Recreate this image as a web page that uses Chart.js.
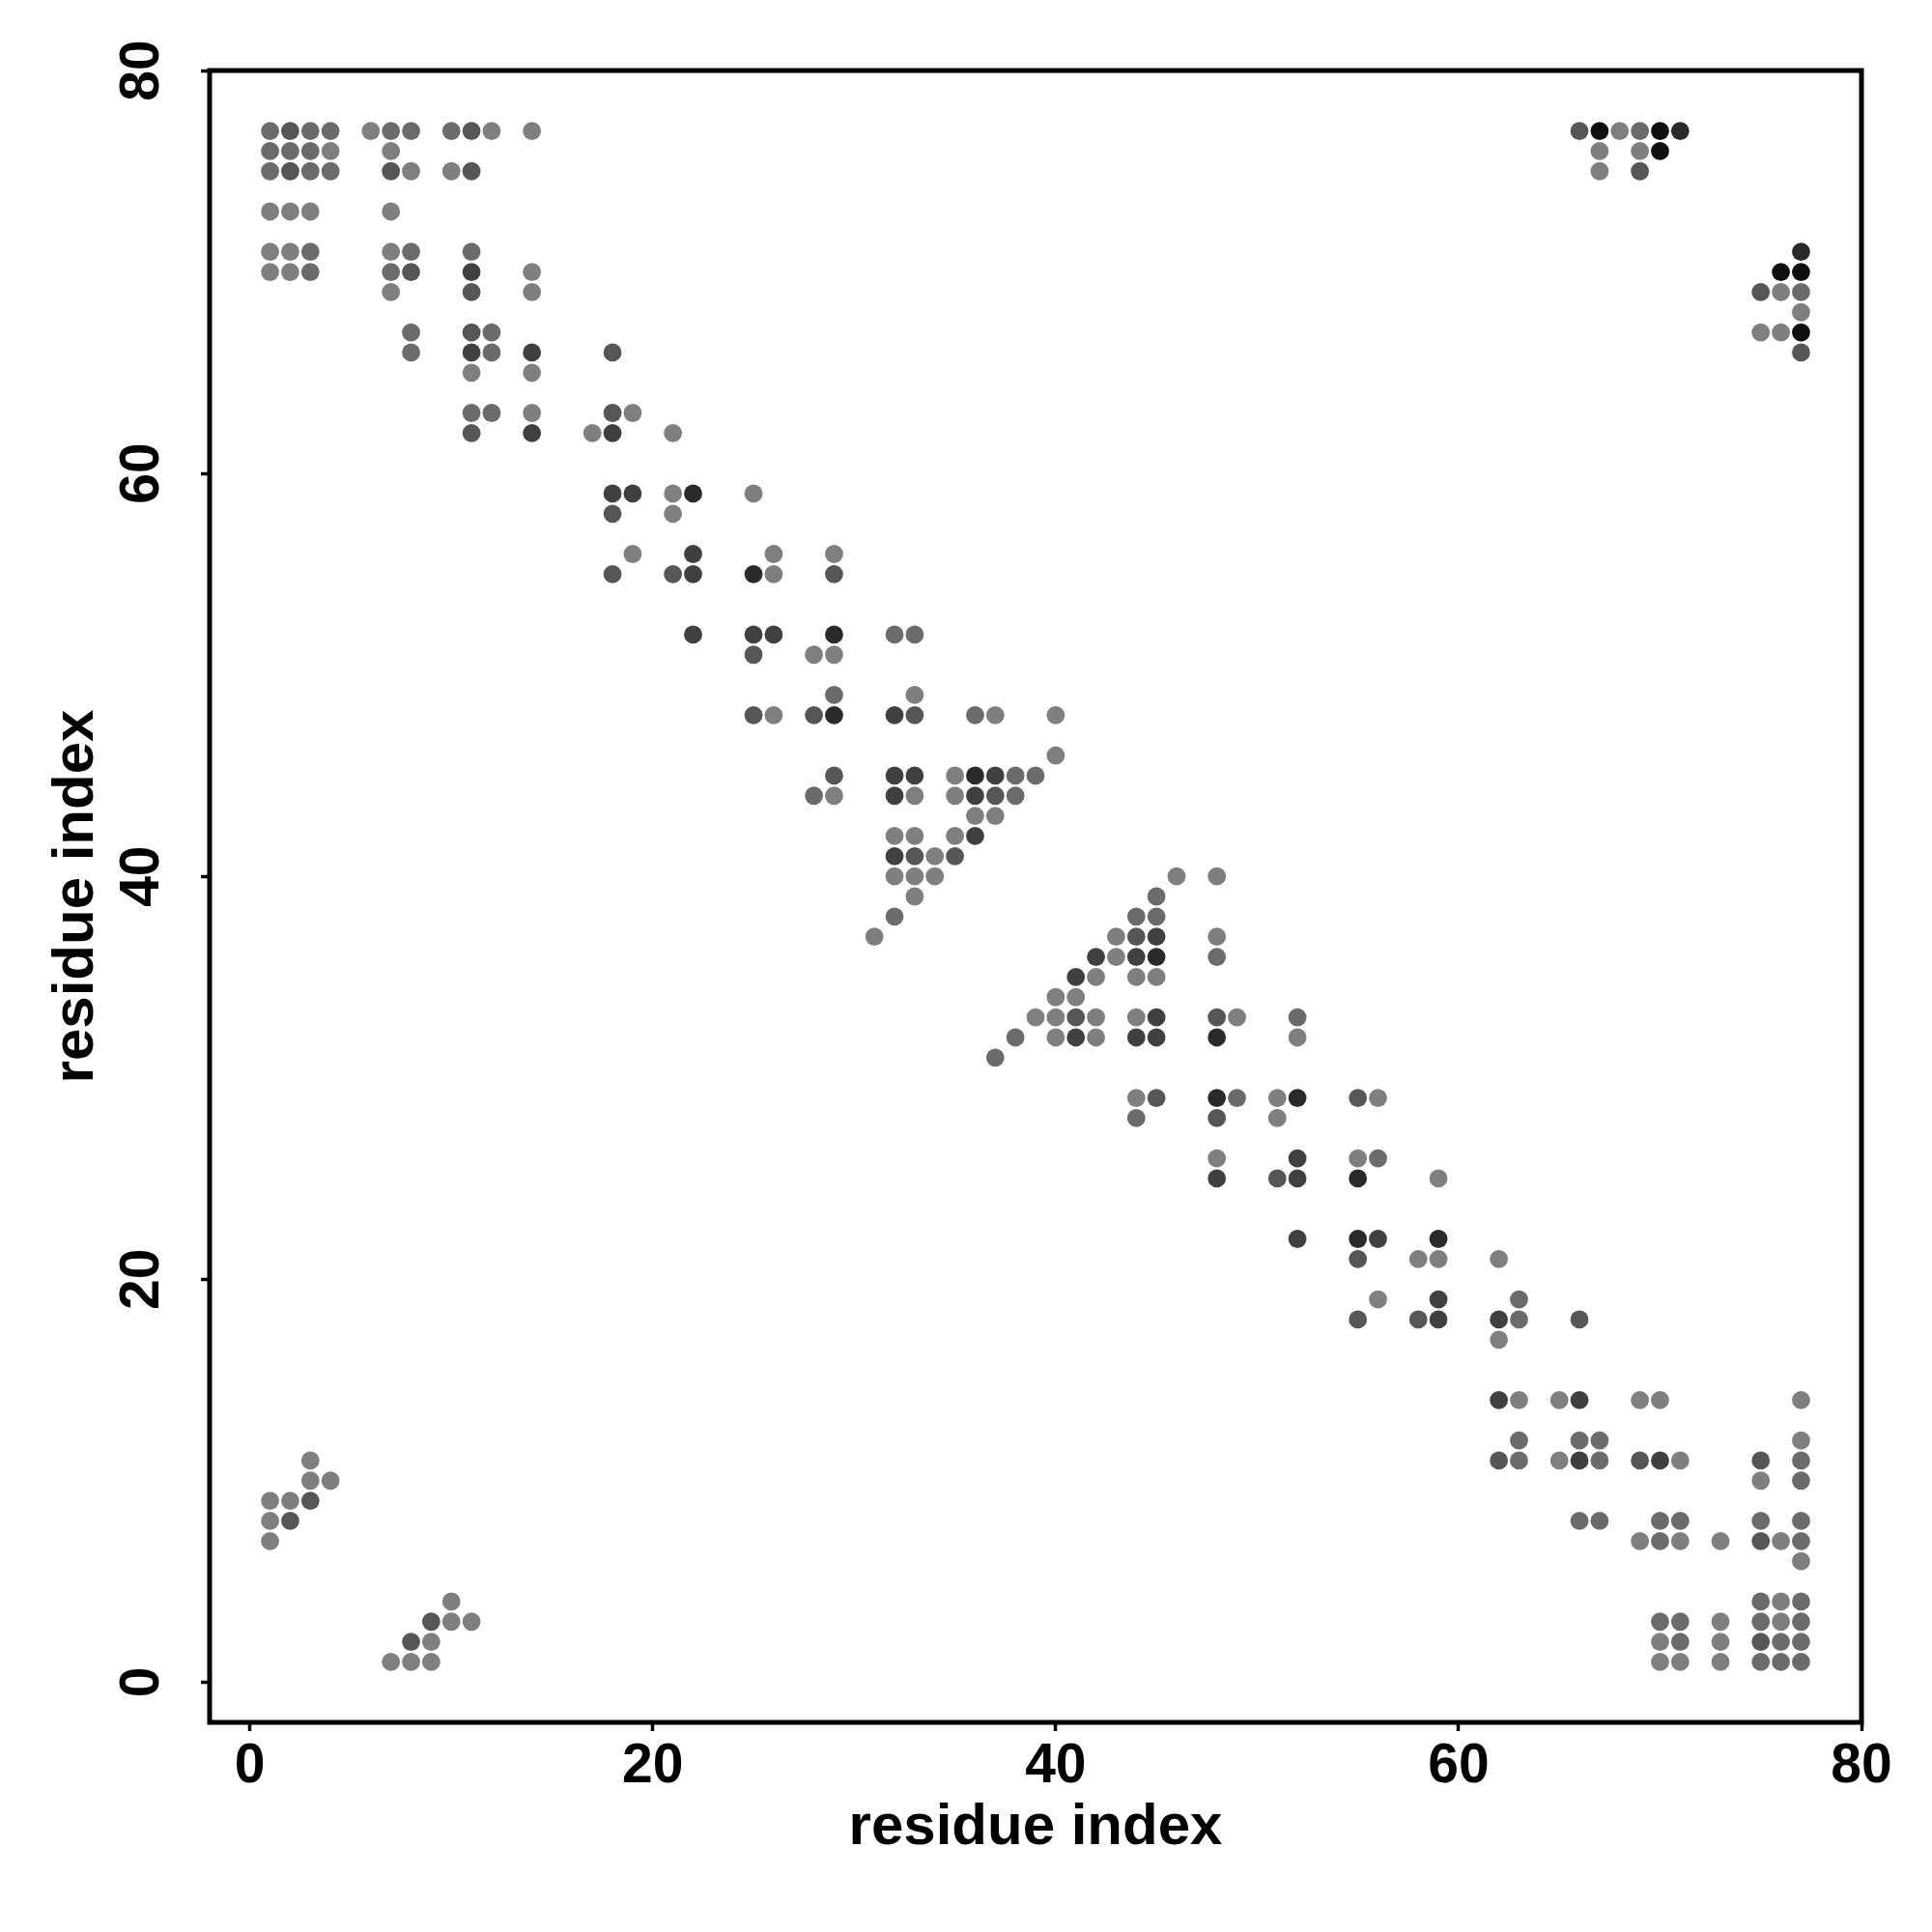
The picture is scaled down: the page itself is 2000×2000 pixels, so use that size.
<!DOCTYPE html>
<html lang="en">
<head>
    <meta charset="UTF-8">
    <title>Contact map</title>
    <script src="https://cdn.jsdelivr.net/npm/chart.js"></script>
    <style>
        html, body { margin: 0; padding: 0; background: #fff; }
        #wrap { width: 2000px; height: 2000px; }
    </style>
</head>
<body>
    <div id="wrap"><canvas id="contactChart" width="2000" height="2000"></canvas></div>

    <script>
        // contacts [residue i, residue j], grouped by grey level
        const contactsLight = [
            [6,77],[12,77],[14,77],[4,76],[7,76],[8,75],[10,75],
            [1,73],[2,73],[3,73],[7,73],[1,71],[2,71],[7,71],
            [1,70],[2,70],[14,70],[7,69],[14,69],[11,65],[14,65],[14,63],
            [19,63],[17,62],[21,62],[21,59],[25,59],[21,58],[19,56],[26,56],[29,56],
            [26,55],[28,51],[29,51],[26,48],[29,44],
            [33,49],[37,48],[40,48],[40,46],[35,45],[33,44],[35,44],[36,43],[37,43],
            [32,42],[33,42],[35,42],[34,41],[32,40],[33,40],[34,40],[33,39],[31,37],
            [46,40],[43,37],[43,36],[42,35],[44,35],[45,35],[40,34],[41,34],
            [39,33],[40,33],[42,33],[44,33],[40,32],[42,32],[44,29],
            [48,40],[48,37],[49,33],[52,32],
            [51,29],[56,29],[51,28],[48,26],[55,26],[59,25],[58,21],[59,21],[62,21],
            [56,19],[62,17],[63,14],
            [65,14],[69,14],[70,14],[77,14],[77,12],[65,11],[71,11],[75,10],
            [69,7],[71,7],[73,7],[76,7],[77,6],[76,4],[73,3],[76,3],
            [70,2],[73,2],[70,1],[71,1],[73,1],
            [3,11],[3,10],[4,10],[1,9],[2,9],[1,8],[1,7],
            [10,4],[10,3],[11,3],[9,2],[7,1],[8,1],[9,1],
            [68,77],[67,76],[69,76],[67,75],[76,69],[77,68],[75,67],[76,67]
        ];
        const contactsMid = [
            [1,77],[3,77],[4,77],[7,77],[8,77],[10,77],[1,76],[2,76],[3,76],
            [1,75],[3,75],[4,75],[3,71],[8,71],[11,71],[3,70],[7,70],
            [8,67],[12,67],[8,66],[12,66],[11,63],[12,63],
            [29,49],[28,44],[32,52],[33,52],
            [36,48],[38,45],[39,45],[38,44],[32,38],[45,39],[44,38],[45,38],
            [38,32],[37,31],[44,28],
            [48,36],[52,33],
            [49,29],[56,26],[63,19],[63,18],
            [63,12],[66,12],[67,12],[63,11],[67,11],[77,11],[77,10],
            [66,8],[67,8],[70,8],[71,8],[75,8],[77,8],[70,7],[77,7],
            [75,4],[77,4],[70,3],[71,3],[75,3],[77,3],[71,2],[76,2],[77,2],
            [75,1],[76,1],[77,1],
            [69,77],[77,69]
        ];
        const contactsMidDark = [
            [2,77],[11,77],[2,75],[7,75],[11,75],[8,70],[11,69],[11,67],[11,62],
            [18,66],[18,63],[18,58],[18,55],[21,55],[29,55],[25,51],[25,48],[28,48],[29,45],
            [33,48],[37,44],[33,41],[35,41],[44,37],[41,33],[45,29],
            [48,33],
            [55,29],[48,28],[51,25],[55,21],[55,18],[58,18],[66,18],
            [62,11],[69,11],[75,11],[75,7],[75,2],
            [3,9],[2,8],[9,3],[8,2],
            [66,77],[69,75],[75,69],[77,66]
        ];
        const contactsDark = [
            [11,70],[11,66],[14,66],[14,62],
            [18,62],[18,59],[19,59],[22,56],[22,55],[22,52],[25,52],[26,52],
            [32,48],[32,45],[33,45],[37,45],[32,44],[36,44],[36,42],[32,41],
            [45,37],[42,36],[44,36],[41,35],[45,33],[41,32],[44,32],[45,32],
            [52,26],[48,25],[52,25],[52,22],[56,22],[59,19],[59,18],[62,18],[62,14],
            [66,14],[66,11],[70,11]
        ];
        const contactsVeryDark = [
            [22,59],[25,55],[29,52],[29,48],[36,45],[45,36],[48,32],
            [48,29],[52,29],[55,25],[55,22],[59,22],[71,77],[77,71]
        ];
        const contactsBlack = [
            [67,77],[70,77],[70,76],[76,70],[77,70],[77,67]
        ];

        const tickValues = [0, 20, 40, 60, 80];

        const groups = [
            { data: contactsLight, color: '#7f7f7f' },
            { data: contactsMid, color: '#6b6b6b' },
            { data: contactsMidDark, color: '#565656' },
            { data: contactsDark, color: '#404040' },
            { data: contactsVeryDark, color: '#2a2a2a' },
            { data: contactsBlack, color: '#0f0f0f' }
        ];

        const tickFont = { family: 'Liberation Sans, Arial, sans-serif', size: 57, weight: 'bold' };
        const titleFont = { family: 'Liberation Sans, Arial, sans-serif', size: 60, weight: 'bold' };

        // box around the plotting region
        const frame = {
            id: 'frame',
            afterDatasetsDraw(chart) {
                const a = chart.chartArea;
                const ctx = chart.ctx;
                ctx.save();
                ctx.strokeStyle = '#000';
                ctx.lineWidth = 5;
                ctx.strokeRect(a.left, a.top, a.right - a.left, a.bottom - a.top);
                ctx.restore();
            }
        };

        const ctx = document.getElementById('contactChart').getContext('2d');
        new Chart(ctx, {
            type: 'scatter',
            data: {
                datasets: groups.map(g => ({
                    data: g.data.map(([i, j]) => ({ x: i, y: j })),
                    backgroundColor: g.color,
                    borderWidth: 0,
                    pointRadius: 9.4,
                    pointHoverRadius: 9.4
                }))
            },
            options: {
                responsive: false,
                animation: false,
                devicePixelRatio: 1,
                layout: { padding: { left: 0, right: 73, top: 73, bottom: 0 } },
                plugins: { legend: { display: false }, tooltip: { enabled: false } },
                scales: {
                    x: {
                        type: 'linear',
                        min: -2,
                        max: 80,
                        afterFit: s => { s.height = 217; },
                        afterBuildTicks: s => { s.ticks = tickValues.map(v => ({ value: v })); },
                        border: { display: false },
                        grid: { display: true, drawOnChartArea: false, drawTicks: true,
                                tickLength: 9, tickWidth: 3.5, tickColor: '#000' },
                        ticks: { font: tickFont, color: '#000', padding: 3,
                                 maxRotation: 0, autoSkip: false },
                        title: { display: true, text: 'residue index', font: titleFont,
                                 color: '#000', padding: { top: 0, bottom: 72 } }
                    },
                    y: {
                        type: 'linear',
                        min: -2,
                        max: 80,
                        afterFit: s => { s.width = 217; },
                        afterBuildTicks: s => { s.ticks = tickValues.map(v => ({ value: v })); },
                        border: { display: false },
                        grid: { display: true, drawOnChartArea: false, drawTicks: true,
                                tickLength: 9, tickWidth: 3.5, tickColor: '#000' },
                        ticks: { font: tickFont, color: '#000', padding: 28,
                                 minRotation: 90, maxRotation: 90, crossAlign: 'center',
                                 autoSkip: false },
                        title: { display: true, text: 'residue index', font: titleFont,
                                 color: '#000', padding: { top: 43, bottom: 0 } }
                    }
                }
            },
            plugins: [frame]
        });
    </script>
</body>
</html>
